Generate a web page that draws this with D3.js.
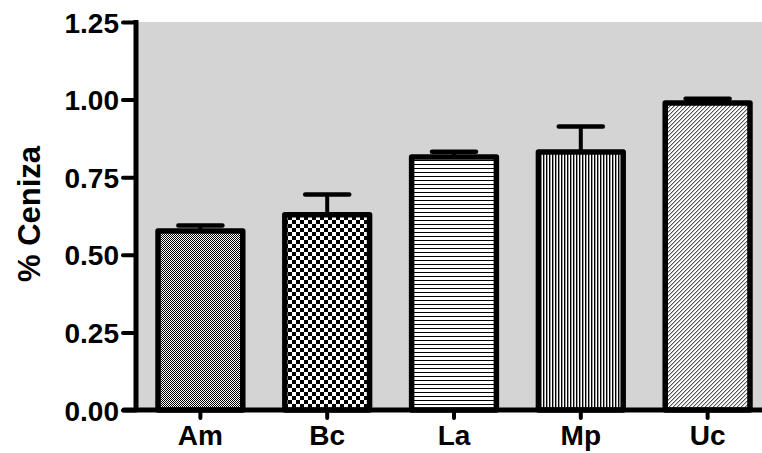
<!DOCTYPE html>
<html>
<head>
<meta charset="utf-8">
<script src="https://cdn.jsdelivr.net/npm/d3@7"></script>
<style>
  body { margin: 0; background: #fff; }
  text { font-family: "Liberation Sans", Arial, sans-serif; font-weight: bold; fill: #000; }
</style>
</head>
<body>
<div id="vis"></div>
<script>
// data
const categories = ['Am', 'Bc', 'La', 'Mp', 'Uc'];
const means = [0.577, 0.629, 0.815, 0.831, 0.989];
const errors = [0.017, 0.065, 0.017, 0.082, 0.014];
const yTicks = [0, 0.25, 0.5, 0.75, 1.0, 1.25];
const patternIds = ['pAm', 'pBc', 'pLa', 'pMp', 'pUc'];

const W = 762, H = 453;
const svg = d3.select('#vis').append('svg')
  .attr('width', W).attr('height', H);

// patterns
const defs = svg.append('defs');
function pat(id, w, h, rects) {
  const p = defs.append('pattern').attr('id', id)
    .attr('patternUnits', 'userSpaceOnUse')
    .attr('width', w).attr('height', h);
  p.append('rect').attr('width', w).attr('height', h).attr('fill', '#fff');
  rects.forEach(r => p.append('rect')
    .attr('x', r[0]).attr('y', r[1]).attr('width', r[2]).attr('height', r[3])
    .attr('fill', r[4] || '#000').attr('shape-rendering', 'crispEdges'));
}
pat('pAm', 2, 2, [[0, 0, 1, 1], [1, 1, 1, 1]]);
pat('pBc', 8, 8, [[0, 0, 4, 4], [4, 4, 4, 4]]);
pat('pLa', 4, 4, [[0, 0, 4, 1]]);
pat('pMp', 3, 3, [[0, 0, 1, 3], [1, 0, 1, 3, '#9a9a9a']]);
pat('pUc', 4, 4, [[0, 3, 1, 1, '#555'], [1, 2, 1, 1, '#555'], [2, 1, 1, 1, '#555'], [3, 0, 1, 1, '#555'],
                  [1, 3, 1, 1, '#bbb'], [2, 2, 1, 1, '#bbb'], [3, 1, 1, 1, '#bbb'], [0, 0, 1, 1, '#bbb']]);

// scales
const x = d3.scaleBand().domain(categories)
  .range([137, 771]).paddingInner(0.3).paddingOuter(0.15);
const y = d3.scaleLinear().domain([0, 1.25]).range([410, 22]);

// gray plot background
svg.append('rect')
  .attr('x', 138).attr('y', y(1.25))
  .attr('width', W - 138).attr('height', y(0) - y(1.25))
  .attr('fill', '#d4d4d4');

// bars
const data = categories.map((c, i) => ({ c, m: means[i], e: errors[i], p: patternIds[i] }));
const g = svg.append('g');

g.selectAll('.err')
  .data(data).join('g').attr('class', 'err')
  .each(function(d) {
    const cx = x(d.c) + x.bandwidth() / 2;
    const sel = d3.select(this);
    sel.append('line')
      .attr('x1', cx).attr('x2', cx)
      .attr('y1', y(d.m)).attr('y2', y(d.m + d.e))
      .attr('stroke', '#000').attr('stroke-width', 4);
    sel.append('line')
      .attr('x1', cx - 22).attr('x2', cx + 22)
      .attr('y1', y(d.m + d.e)).attr('y2', y(d.m + d.e))
      .attr('stroke', '#000').attr('stroke-width', 4.5)
      .attr('stroke-linecap', 'round');
  });

g.selectAll('.bar')
  .data(data).join('rect').attr('class', 'bar')
  .attr('x', d => x(d.c) + 2)
  .attr('width', x.bandwidth() - 4)
  .attr('y', d => y(d.m))
  .attr('height', d => y(0) - y(d.m))
  .attr('fill', d => `url(#${d.p})`)
  .attr('stroke', '#000').attr('stroke-width', 5.5)
  .attr('stroke-linejoin', 'round');

// axes
const yAxis = d3.axisLeft(y).tickValues(yTicks)
  .tickFormat(d3.format('.2f')).tickSize(13).tickPadding(4);
const gy = svg.append('g').attr('transform', 'translate(136,0)').call(yAxis);
gy.select('.domain').remove();
gy.append('line').attr('x1', 0).attr('x2', 0)
  .attr('y1', y(1.25) - 2).attr('y2', y(0) + 2)
  .attr('stroke', '#000').attr('stroke-width', 5);
gy.selectAll('.tick line').attr('stroke', '#000').attr('stroke-width', 4)
  .attr('stroke-linecap', 'round');
gy.selectAll('.tick text').style('font-size', '28px').attr('dy', '0.36em');

const xAxis = d3.axisBottom(x).tickSize(8).tickPadding(7);
const gx = svg.append('g').attr('transform', 'translate(0,410)').call(xAxis);
gx.select('.domain').remove();
gx.append('line').attr('x1', 124).attr('x2', W)
  .attr('y1', 0).attr('y2', 0)
  .attr('stroke', '#000').attr('stroke-width', 5)
  .attr('stroke-linecap', 'round');
gx.selectAll('.tick line').attr('stroke', '#000').attr('stroke-width', 4)
  .attr('stroke-linecap', 'round');
gx.selectAll('.tick text').style('font-size', '28px').attr('dy', '0.71em');

// y label
svg.append('text')
  .attr('transform', 'translate(40,214) rotate(-90)')
  .attr('text-anchor', 'middle')
  .style('font-size', '31px')
  .text('% Ceniza');
</script>
</body>
</html>
